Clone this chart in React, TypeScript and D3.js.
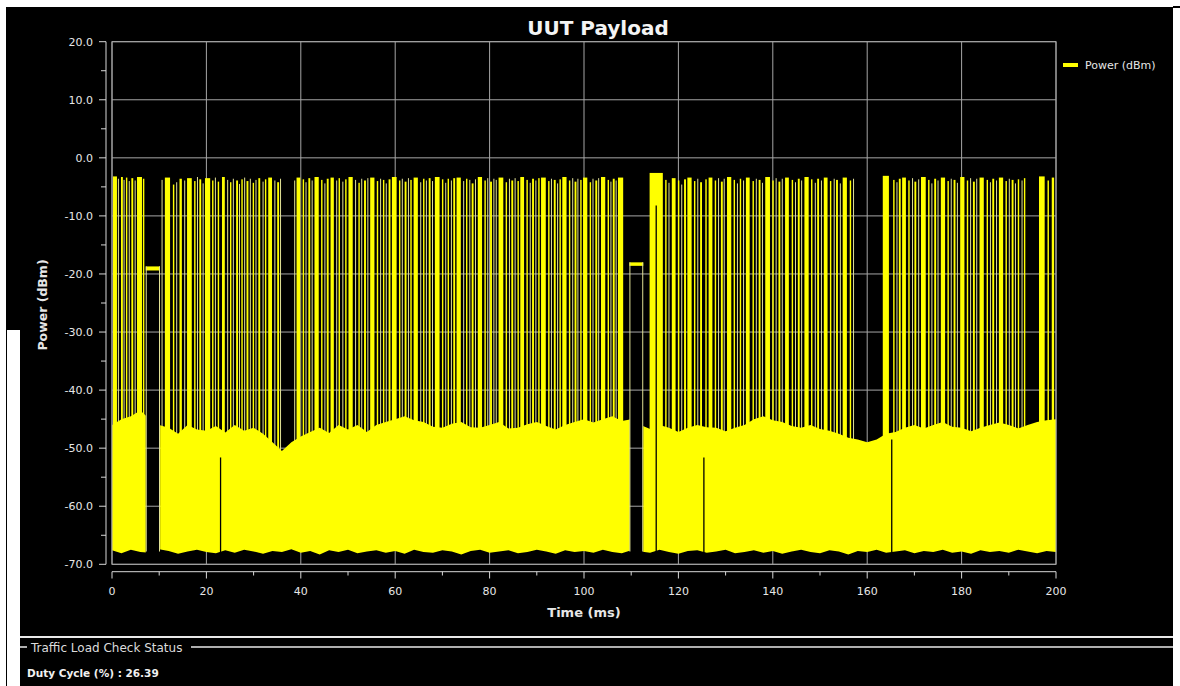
import React from "react";
import * as d3 from "d3";

// ---------- data ----------
const xTicks = [0, 20, 40, 60, 80, 100, 120, 140, 160, 180, 200];
const xMinorTicks = [10, 30, 50, 70, 90, 110, 130, 150, 170, 190];
const yTicks = [20, 10, 0, -10, -20, -30, -40, -50, -60, -70];
const yMinorTicks = [15, 5, -5, -15, -25, -35, -45, -55, -65];

// noise floor upper edge, sampled every 2 ms from 0 to 200 ms (dBm)
const noiseTop = [
  -46, -45, -44.5, -43.5, -45, -46, -46.5, -47.5, -46, -46.8,
  -47, -46.2, -47.3, -46, -47, -46.5, -47.5, -49, -50.5, -49,
  -48, -47.2, -46.5, -47.4, -46, -46.8, -46, -47.2, -46, -45.5,
  -45, -44.5, -45.2, -45.5, -46.3, -46.5, -45.8, -45.5, -46.4, -46.5,
  -46, -45.5, -46.6, -46.5, -45.9, -45.5, -46.2, -46.8, -46, -45.5,
  -45, -45.6, -45, -44.5, -45.3, -45, -46, -46.7, -46, -46.5,
  -47.2, -46.5, -46, -46.4, -46.5, -47.1, -46.5, -46, -45, -44.5,
  -45.2, -45.5, -46.2, -46.5, -46, -46.7, -47, -47.5, -48.2, -48.5,
  -49, -48.5, -47.5, -47.2, -46.5, -46, -46.6, -46, -45.5, -46.3,
  -46.5, -47.1, -46.5, -46, -45.6, -46, -46.6, -46, -45.5, -45.2,
  -45,
];
// noise floor lower edge, sampled every 2 ms from 0 to 200 ms (dBm)
const noiseBottom = [
  -67.6, -68.1, -67.5, -67.9, -68.0, -67.4, -67.7, -68.2, -67.8, -67.5,
  -67.9, -68.1, -67.6, -68.0, -67.5, -67.8, -68.2, -67.7, -67.9, -67.4,
  -68.0, -67.7, -68.3, -67.6, -67.9, -67.5, -68.1, -67.8, -67.6, -68.0,
  -67.7, -68.2, -67.5, -67.9, -68.0, -67.6, -67.8, -68.3, -67.7, -67.5,
  -68.0, -67.8, -67.6, -68.1, -67.9, -67.5, -67.8, -68.2, -67.6, -67.9,
  -67.7, -68.0, -67.5, -67.9, -68.1, -67.6, -67.8, -68.0, -67.5, -67.9,
  -68.2, -67.7, -67.6, -68.0, -67.8, -67.5, -68.1, -67.9, -67.6, -68.0,
  -67.7, -68.2, -67.8, -67.5, -67.9, -68.1, -67.6, -67.8, -68.3, -67.7,
  -67.9, -67.5, -68.0, -67.8, -67.6, -68.1, -67.7, -67.9, -67.5, -68.0,
  -67.8, -68.2, -67.6, -67.9, -67.7, -68.0, -67.5, -67.8, -68.1, -67.7,
  -67.9,
];
// time spans (ms) where the noise floor is present
const noiseSegments = [
  [0, 7.15],
  [10.2, 109.7],
  [112.55, 200],
];
// low-level bursts: [start ms, end ms, top dBm, bottom dBm]
const lowBursts = [
  [7.15, 10.17, -18.7, -19.4],
  [109.62, 112.55, -18.0, -18.6],
];
// short dropouts (black lines): [ms, level dBm]
const dropouts = [
  [23.0, -51.6],
  [115.3, -8.2],
  [125.4, -51.6],
  [165.2, -48.5],
];
// packets: [start ms, end ms, peak dBm]
const pulses = [
  [0.2, 1.05, -3.2], [1.25, 1.45, -3.6], [1.9, 2.3, -3.3], [2.45, 2.65, -3.8], [2.95, 3.25, -3.4],
  [3.55, 3.75, -4.0], [4.1, 4.5, -3.5], [4.8, 5.0, -3.9], [5.3, 6.35, -3.3], [6.55, 6.85, -3.6],
  [10.5, 10.7, -3.8], [11.2, 12.3, -3.4], [12.9, 13.2, -4.6], [13.6, 13.8, -4.2], [14.3, 14.8, -3.6],
  [15.3, 15.5, -3.9], [15.9, 16.9, -3.5], [17.4, 17.7, -4.0], [18.0, 18.2, -3.3], [18.5, 18.9, -3.7],
  [19.2, 19.4, -4.4], [19.7, 20.8, -3.5], [21.2, 21.5, -3.9], [21.8, 22.0, -3.4], [22.4, 22.7, -4.1],
  [23.3, 23.9, -3.3], [24.4, 24.6, -3.8], [25.0, 25.3, -4.2], [25.6, 25.8, -3.6], [26.3, 26.7, -3.9],
  [26.9, 27.1, -4.5], [27.4, 27.7, -3.7], [28.0, 28.2, -3.4], [28.5, 28.9, -4.0], [29.2, 29.4, -3.6],
  [29.8, 30.1, -4.3], [30.4, 30.6, -3.8], [31.0, 31.4, -3.5], [31.9, 32.1, -4.1], [32.4, 32.7, -3.7],
  [33.1, 33.9, -3.4], [34.4, 34.6, -3.9], [35.0, 35.4, -4.2], [35.6, 35.8, -3.6],
  [38.6, 38.8, -3.9], [39.1, 39.9, -3.4], [40.4, 40.7, -3.7], [41.0, 41.2, -4.2], [41.6, 42.0, -3.5],
  [42.3, 42.5, -3.9], [42.9, 43.8, -3.3], [44.3, 44.6, -3.8], [45.0, 45.2, -4.4], [45.5, 45.9, -3.6],
  [46.3, 47.0, -3.4], [47.5, 47.7, -3.9], [48.0, 48.3, -3.5], [48.8, 49.0, -4.1], [49.4, 49.7, -3.7],
  [50.1, 51.0, -3.3], [51.5, 51.7, -3.8], [52.2, 52.5, -4.3], [52.8, 53.0, -3.6], [53.4, 53.8, -3.9],
  [54.1, 54.3, -3.5], [54.7, 55.6, -3.4], [56.1, 56.4, -4.0], [56.8, 57.0, -3.6], [57.4, 57.7, -3.8],
  [58.0, 58.2, -4.4], [58.6, 59.0, -3.7], [59.3, 60.3, -3.3], [60.8, 61.1, -3.9], [61.4, 61.6, -3.6],
  [62.0, 62.4, -4.1], [62.7, 62.9, -3.5], [63.2, 63.5, -3.8], [63.9, 64.8, -3.4], [65.3, 65.5, -4.2],
  [65.9, 66.2, -3.6], [66.5, 66.7, -3.9], [67.1, 67.5, -3.5], [67.8, 68.0, -4.0], [68.4, 69.4, -3.3],
  [69.9, 70.2, -3.7], [70.6, 70.8, -4.3], [71.1, 71.4, -3.6], [71.8, 72.0, -3.9], [72.3, 72.7, -3.5],
  [73.0, 73.9, -3.4], [74.4, 74.6, -4.0], [75.0, 75.3, -3.6], [75.7, 75.9, -3.8], [76.2, 76.6, -4.4],
  [76.9, 77.1, -3.7], [77.5, 78.4, -3.3], [78.9, 79.2, -3.9], [79.5, 79.7, -3.5], [80.1, 80.5, -4.1],
  [80.8, 81.0, -3.6], [81.3, 81.5, -3.8], [81.9, 82.9, -3.4], [83.4, 83.7, -4.2], [84.1, 84.3, -3.6],
  [84.6, 85.0, -3.9], [85.3, 85.5, -3.5], [85.9, 86.2, -4.0], [86.5, 87.3, -3.3], [87.8, 88.1, -3.8],
  [88.5, 88.7, -4.3], [89.0, 89.4, -3.6], [89.7, 89.9, -3.9], [90.3, 90.6, -3.5], [90.9, 91.9, -3.4],
  [92.4, 92.7, -4.0], [93.0, 93.2, -3.6], [93.6, 94.0, -3.8], [94.3, 94.5, -4.4], [94.8, 95.1, -3.7],
  [95.4, 96.3, -3.3], [96.8, 97.1, -3.9], [97.5, 97.7, -3.5], [98.0, 98.4, -4.1], [98.6, 98.8, -3.6],
  [99.2, 99.5, -3.8], [99.8, 100.7, -3.4], [101.2, 101.5, -4.2], [101.8, 102.0, -3.6], [102.4, 102.8, -3.9],
  [103.0, 103.2, -3.5], [103.6, 104.5, -3.3], [105.0, 105.3, -3.8], [105.6, 105.8, -4.1], [106.1, 106.5, -3.6],
  [106.7, 106.9, -3.9], [107.2, 108.3, -3.4],
  [113.9, 116.7, -2.6], [117.2, 117.5, -3.8], [117.9, 118.1, -4.3], [118.6, 119.4, -3.5], [119.9, 120.2, -3.9],
  [120.6, 120.8, -4.6], [121.2, 121.6, -3.7], [121.9, 122.8, -3.4], [123.3, 123.6, -4.0], [124.0, 124.2, -3.6],
  [124.6, 125.0, -4.2], [125.7, 126.0, -3.7], [126.4, 127.2, -3.4], [127.7, 128.0, -3.9], [128.4, 128.6, -3.5],
  [129.0, 129.4, -4.1], [129.6, 129.8, -3.6], [130.3, 131.2, -3.3], [131.7, 132.0, -3.8], [132.4, 132.6, -4.4],
  [133.0, 133.3, -3.6], [133.7, 133.9, -3.9], [134.3, 135.1, -3.4], [135.7, 136.0, -4.0], [136.4, 136.6, -3.6],
  [137.0, 137.4, -3.8], [137.7, 137.9, -4.3], [138.4, 139.4, -3.3], [139.9, 140.2, -3.9], [140.6, 140.8, -3.5],
  [141.2, 141.6, -4.1], [141.9, 142.1, -3.6], [142.6, 143.4, -3.4], [144.0, 144.3, -3.8], [144.7, 144.9, -4.2],
  [145.3, 145.7, -3.6], [146.0, 146.2, -3.9], [146.7, 147.6, -3.3], [148.1, 148.4, -3.7], [148.9, 149.1, -4.3],
  [149.4, 149.8, -3.6], [150.2, 150.4, -3.9], [150.8, 151.6, -3.4], [152.1, 152.4, -4.0], [152.9, 153.1, -3.6],
  [153.4, 153.8, -3.8], [154.2, 154.4, -4.4], [154.8, 155.7, -3.4], [156.3, 156.6, -3.9], [157.0, 157.2, -3.6],
  [163.3, 164.6, -3.1], [165.5, 165.8, -3.8], [166.2, 166.4, -4.2], [166.7, 167.1, -3.6], [167.4, 168.2, -3.4],
  [168.7, 169.0, -3.9], [169.5, 169.7, -3.5], [170.0, 170.4, -4.1], [170.8, 171.0, -3.7], [171.4, 172.4, -3.3],
  [172.9, 173.2, -3.8], [173.6, 173.8, -4.4], [174.2, 174.6, -3.6], [174.9, 175.1, -3.9], [175.6, 176.5, -3.4],
  [177.0, 177.3, -4.0], [177.7, 177.9, -3.6], [178.3, 178.7, -3.8], [179.0, 179.2, -4.3], [179.7, 180.6, -3.3],
  [181.1, 181.4, -3.9], [181.8, 182.0, -3.5], [182.4, 182.8, -4.1], [183.1, 183.3, -3.6], [183.8, 184.7, -3.4],
  [185.3, 185.6, -3.8], [186.0, 186.2, -4.2], [186.5, 186.9, -3.6], [187.3, 187.5, -3.9], [187.9, 188.8, -3.4],
  [189.3, 189.6, -4.0], [190.0, 190.2, -3.6], [190.6, 191.0, -3.8], [191.3, 191.5, -4.4], [191.9, 192.2, -3.7],
  [192.7, 192.9, -3.9], [193.2, 193.5, -3.5], [196.4, 197.6, -3.2], [198.2, 198.5, -3.9], [199.1, 199.6, -3.4],
];

const chartTitle = "UUT Payload";
const xTitle = "Time (ms)";
const yTitle = "Power (dBm)";
const seriesName = "Power (dBm)";
const statusTitle = "Traffic Load Check Status";
const dutyCycle = "Duty Cycle (%) : 26.39";

// ---------- chart ----------
const W = 1180;
const H = 686;
const FONT = "'DejaVu Sans', Verdana, sans-serif";
const YELLOW = "#ffff00";
const THIN = "#e2e296";
const GRID = "#a6a6a6";
const AXIS = "#d8d8d8";
const TEXT = "#e6e6e6";

export default function App() {
  const x = d3.scaleLinear().domain([0, 200]).range([112, 1056]);
  const y = d3.scaleLinear().domain([-70, 20]).range([564.3, 41.7]);

  const topPts: [number, number][] = noiseTop.map((v, i) => [i * 2, v]);
  const botPts: [number, number][] = noiseBottom.map((v, i) => [i * 2, v]);
  const line = d3
    .line<[number, number]>()
    .x((d) => x(d[0]))
    .y((d) => y(d[1]))
    .curve(d3.curveLinear);
  const topPath = line(topPts) || "";
  const botPath = line(botPts.slice().reverse()) || "";
  const noisePath = topPath + botPath.replace(/^M/, "L") + "Z";

  const pulseBottom = y(-60);
  const floorBottom = y(-67.8);

  return (
    <svg
      width={W}
      height={H}
      style={{ position: "absolute", left: 0, top: 0, display: "block" }}
    >
      <defs>
        <clipPath id="noiseClip">
          {noiseSegments.map((s, i) => (
            <rect key={i} x={x(s[0])} y={0} width={x(s[1]) - x(s[0])} height={H} />
          ))}
        </clipPath>
      </defs>
      {/* page + panels */}
      <rect x={0} y={0} width={W} height={H} fill="#ffffff" />
      <rect x={6} y={7} width={1167} height={H - 7} fill="#000000" />
      <rect x={7} y={330} width={13} height={H - 330} fill="#ffffff" />
      <line x1={1173} x2={W} y1={7} y2={7} stroke="#000" strokeWidth={2} />

      {/* title */}
      <text
        x={598}
        y={35}
        textAnchor="middle"
        fontFamily={FONT}
        fontWeight="bold"
        fontSize={20}
        fill="#f4f4f4"
      >
        {chartTitle}
      </text>

      {/* grid */}
      {xTicks.map((t) => (
        <line key={"gx" + t} x1={x(t)} x2={x(t)} y1={y(20)} y2={y(-70)} stroke={GRID} strokeWidth={1} />
      ))}
      {yTicks.map((t) => (
        <line key={"gy" + t} x1={x(0)} x2={x(200)} y1={y(t)} y2={y(t)} stroke={GRID} strokeWidth={1} />
      ))}

      {/* series: packets */}
      {pulses.map((p, i) => {
        const w = x(p[1]) - x(p[0]);
        const thin = w < 1.2;
        return (
          <rect
            key={"p" + i}
            x={x(p[0])}
            y={y(p[2])}
            width={thin ? 1 : w}
            height={pulseBottom - y(p[2])}
            fill={thin ? THIN : YELLOW}
          />
        );
      })}
      {/* series: noise floor */}
      <path d={noisePath} fill={YELLOW} clipPath="url(#noiseClip)" />
      {lowBursts.map((b, i) => (
        <g key={"lb" + i}>
          <rect
            x={x(b[0])}
            y={y(b[2])}
            width={x(b[1]) - x(b[0])}
            height={y(b[3]) - y(b[2])}
            fill={YELLOW}
          />
          <line x1={x(b[0]) + 0.5} x2={x(b[0]) + 0.5} y1={y(b[2])} y2={floorBottom} stroke={THIN} strokeWidth={1} />
          <line x1={x(b[1]) - 0.5} x2={x(b[1]) - 0.5} y1={y(b[2])} y2={floorBottom} stroke={THIN} strokeWidth={1} />
        </g>
      ))}
      {dropouts.map((d, i) => (
        <line
          key={"d" + i}
          x1={x(d[0])}
          x2={x(d[0])}
          y1={y(d[1])}
          y2={y(-68.6)}
          stroke="#000"
          strokeWidth={1.3}
        />
      ))}

      {/* plot border */}
      <rect
        x={x(0)}
        y={y(20)}
        width={x(200) - x(0)}
        height={y(-70) - y(20)}
        fill="none"
        stroke={GRID}
        strokeWidth={1}
      />

      {/* y axis */}
      <line x1={106} x2={106} y1={y(20)} y2={y(-70)} stroke={AXIS} strokeWidth={1} />
      {yTicks.map((t) => (
        <g key={"yt" + t}>
          <line x1={99} x2={106} y1={y(t)} y2={y(t)} stroke={AXIS} />
          <text
            x={93}
            y={y(t) + 4}
            textAnchor="end"
            fontFamily={FONT}
            fontSize={11}
            fill={TEXT}
          >
            {t.toFixed(1)}
          </text>
        </g>
      ))}
      {yMinorTicks.map((t) => (
        <line key={"ym" + t} x1={101} x2={106} y1={y(t)} y2={y(t)} stroke={AXIS} />
      ))}

      {/* x axis */}
      <line x1={x(0)} x2={x(200)} y1={571.7} y2={571.7} stroke={AXIS} strokeWidth={1} />
      {xTicks.map((t) => (
        <g key={"xt" + t}>
          <line x1={x(t)} x2={x(t)} y1={571.7} y2={578.5} stroke={AXIS} />
          <text
            x={x(t)}
            y={595}
            textAnchor="middle"
            fontFamily={FONT}
            fontSize={11}
            fill={TEXT}
          >
            {t}
          </text>
        </g>
      ))}
      {xMinorTicks.map((t) => (
        <line key={"xm" + t} x1={x(t)} x2={x(t)} y1={571.7} y2={575.5} stroke={AXIS} />
      ))}

      {/* axis titles */}
      <text
        x={584}
        y={617}
        textAnchor="middle"
        fontFamily={FONT}
        fontWeight="bold"
        fontSize={13}
        fill={TEXT}
      >
        {xTitle}
      </text>
      <text
        transform="translate(47,305) rotate(-90)"
        textAnchor="middle"
        fontFamily={FONT}
        fontWeight="bold"
        fontSize={12.5}
        fill={TEXT}
      >
        {yTitle}
      </text>

      {/* legend */}
      <rect x={1063} y={63} width={15} height={4} fill={YELLOW} />
      <text x={1085} y={69} fontFamily={FONT} fontSize={11} fill={TEXT}>
        {seriesName}
      </text>

      {/* status group box */}
      <line x1={20} x2={1173} y1={637} y2={637} stroke="#e8e8e8" strokeWidth={2} />
      <line x1={20} x2={27} y1={647} y2={647} stroke="#e8e8e8" strokeWidth={1.5} />
      <line x1={191} x2={1173} y1={647} y2={647} stroke="#e8e8e8" strokeWidth={1.5} />
      <text x={31} y={651.5} fontFamily={FONT} fontSize={12} fill="#dcdcdc">
        {statusTitle}
      </text>
      <text x={27} y={677} fontFamily={FONT} fontWeight="bold" fontSize={10.5} fill="#f0f0f0">
        {dutyCycle}
      </text>
    </svg>
  );
}
